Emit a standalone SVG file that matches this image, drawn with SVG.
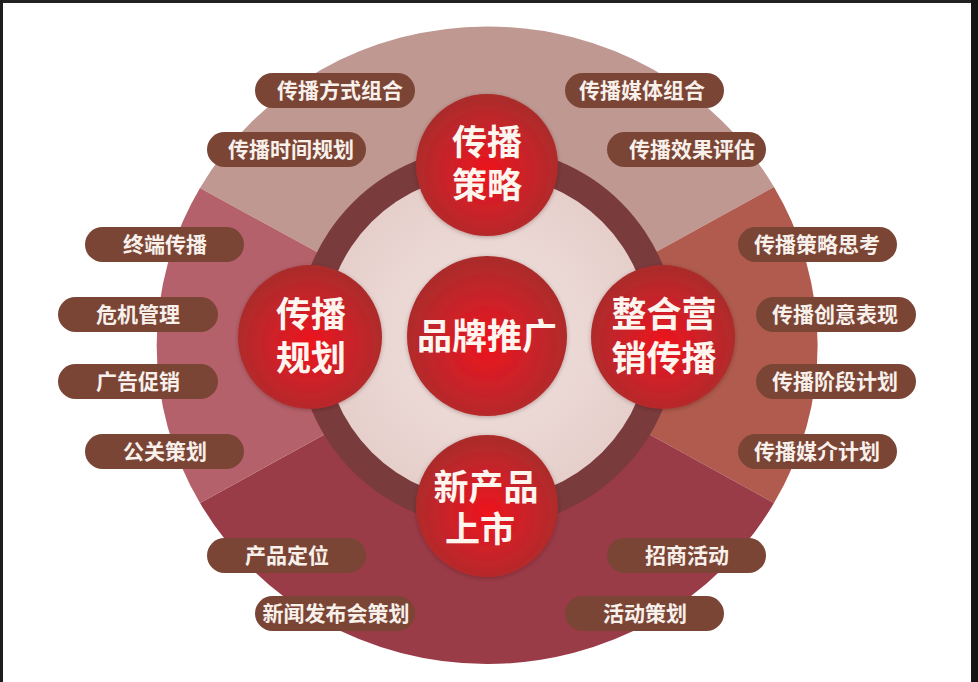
<svg xmlns="http://www.w3.org/2000/svg" width="978" height="682" viewBox="0 0 978 682">
  <defs>
    <radialGradient id="nodeGrad" cx="50%" cy="55%" r="55%">
      <stop offset="0" stop-color="#EE141C"/>
      <stop offset="0.55" stop-color="#C8232A"/>
      <stop offset="1" stop-color="#A92D2C"/>
    </radialGradient>
    <radialGradient id="innerGrad" cx="50%" cy="50%" r="50%">
      <stop offset="0" stop-color="#F1E3E1"/>
      <stop offset="1" stop-color="#E6CFCB"/>
    </radialGradient>
    <filter id="soft" x="-20%" y="-20%" width="140%" height="140%">
      <feDropShadow dx="0" dy="1" stdDeviation="2" flood-color="#3a0a0a" flood-opacity="0.3"/>
    </filter>
  </defs>
  <style>
    .pill { fill: #7B4536; }
    .pt { font-family: "Noto Sans CJK SC", "Noto Sans", sans-serif; font-size: 21px; font-weight: 700; fill: #F8F0EA; text-anchor: middle; }
    .node { fill: url(#nodeGrad); filter: url(#soft); }
    .nt { font-family: "Liberation Sans", "Noto Sans CJK SC", sans-serif; font-size: 35px; font-weight: 700; fill: #FFF5EF; text-anchor: middle; }
  </style>

  <rect x="0" y="0" width="978" height="682" fill="#FFFFFF"/>

  <!-- outer ring sectors -->
  <g id="sectors">
    <path d="M487,345 L200,188 A330,318 0 0 1 774,187 Z" fill="#BF9891"/>
    <path d="M487,345 L774,187 A330,318 0 0 1 774,503 Z" fill="#B05B4E"/>
    <path d="M487,345 L774,503 A330,318 0 0 1 200,503 Z" fill="#9A3B48"/>
    <path d="M487,345 L200,503 A330,318 0 0 1 200,188 Z" fill="#B5616B"/>
  </g>

  <!-- inner ring -->
  <g id="ring">
    <circle cx="487" cy="337" r="190" fill="#7A3B3D"/>
    <circle cx="487" cy="337" r="163" fill="url(#innerGrad)"/>
  </g>

  <!-- connectors (none drawn in the picture) -->
  <g id="connectors"></g>

  <!-- central nodes -->
  <g id="node-center">
    <circle class="node" cx="487" cy="336" r="80"/>
    <text class="nt" x="487" y="349">品牌推广</text>
  </g>
  <g id="node-top">
    <circle class="node" cx="487" cy="165" r="71"/>
    <text class="nt"><tspan x="487" y="155">传播</tspan><tspan x="487" y="198">策略</tspan></text>
  </g>
  <g id="node-left">
    <circle class="node" cx="310" cy="337" r="72"/>
    <text class="nt"><tspan x="311" y="327">传播</tspan><tspan x="311" y="371">规划</tspan></text>
  </g>
  <g id="node-right">
    <circle class="node" cx="663" cy="337" r="72"/>
    <text class="nt"><tspan x="664" y="327">整合营</tspan><tspan x="664" y="371">销传播</tspan></text>
  </g>
  <g id="node-bottom">
    <circle class="node" cx="487" cy="506" r="71"/>
    <text class="nt"><tspan x="486" y="500">新产品</tspan><tspan x="480" y="542">上市</tspan></text>
  </g>

  <!-- label pills -->
  <g id="pill-1"><rect class="pill" x="255" y="73" width="160" height="35" rx="17.5"/><text class="pt" x="340" y="98">传播方式组合</text></g>
  <g id="pill-2"><rect class="pill" x="207" y="132" width="159" height="35" rx="17.5"/><text class="pt" x="291" y="157">传播时间规划</text></g>
  <g id="pill-3"><rect class="pill" x="85" y="227" width="159" height="35" rx="17.5"/><text class="pt" x="165" y="252">终端传播</text></g>
  <g id="pill-4"><rect class="pill" x="58" y="297" width="160" height="35" rx="17.5"/><text class="pt" x="138" y="322">危机管理</text></g>
  <g id="pill-5"><rect class="pill" x="58" y="364" width="160" height="35" rx="17.5"/><text class="pt" x="138" y="389">广告促销</text></g>
  <g id="pill-6"><rect class="pill" x="85" y="434" width="159" height="35" rx="17.5"/><text class="pt" x="165" y="459">公关策划</text></g>
  <g id="pill-7"><rect class="pill" x="207" y="538" width="159" height="35" rx="17.5"/><text class="pt" x="287" y="563">产品定位</text></g>
  <g id="pill-8"><rect class="pill" x="255" y="596" width="160" height="35" rx="17.5"/><text class="pt" x="336" y="621">新闻发布会策划</text></g>
  <g id="pill-9"><rect class="pill" x="565" y="73" width="159" height="35" rx="17.5"/><text class="pt" x="642" y="98">传播媒体组合</text></g>
  <g id="pill-10"><rect class="pill" x="607" y="132" width="159" height="35" rx="17.5"/><text class="pt" x="692" y="157">传播效果评估</text></g>
  <g id="pill-11"><rect class="pill" x="738" y="227" width="159" height="35" rx="17.5"/><text class="pt" x="817" y="252">传播策略思考</text></g>
  <g id="pill-12"><rect class="pill" x="756" y="297" width="160" height="35" rx="17.5"/><text class="pt" x="835" y="322">传播创意表现</text></g>
  <g id="pill-13"><rect class="pill" x="756" y="364" width="160" height="35" rx="17.5"/><text class="pt" x="835" y="389">传播阶段计划</text></g>
  <g id="pill-14"><rect class="pill" x="738" y="434" width="159" height="35" rx="17.5"/><text class="pt" x="817" y="459">传播媒介计划</text></g>
  <g id="pill-15"><rect class="pill" x="607" y="538" width="159" height="35" rx="17.5"/><text class="pt" x="687" y="563">招商活动</text></g>
  <g id="pill-16"><rect class="pill" x="565" y="596" width="159" height="35" rx="17.5"/><text class="pt" x="645" y="621">活动策划</text></g>

  <!-- screenshot frame -->
  <g id="frame">
    <rect x="0" y="0" width="978" height="3" fill="#222222"/>
    <rect x="0" y="0" width="3" height="682" fill="#1E1E1E"/>
    <rect x="971" y="0" width="7" height="682" fill="#151515"/>
  </g>
</svg>
